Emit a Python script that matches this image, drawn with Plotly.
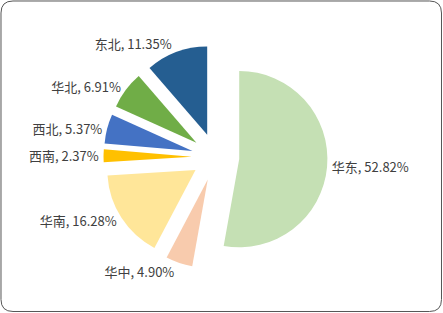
import plotly.graph_objects as go

regions = ["华东", "华中", "华南", "西南", "西北", "华北", "东北"]
shares = [52.82, 4.90, 16.28, 2.37, 5.37, 6.91, 11.35]
colors = ["#C5E0B4", "#F8CBAD", "#FFE699", "#FFC000", "#4472C4", "#70AD47", "#255E91"]

W, H = 443, 313
ml, mr, mt, mb = 0, 12, 45, 44
pw, ph = W - ml - mr, H - mt - mb

def px2paper(x, y):
    return ((x - ml) / pw, (H - mb - y) / ph)

def rounded_rect(x0, y0, x1, y1, r):
    def P(x, y):
        a, b = px2paper(x, y)
        return f"{a:.5f},{b:.5f}"
    d = f"M {P(x0 + r, y0)} L {P(x1 - r, y0)} Q {P(x1, y0)} {P(x1, y0 + r)} "
    d += f"L {P(x1, y1 - r)} Q {P(x1, y1)} {P(x1 - r, y1)} "
    d += f"L {P(x0 + r, y1)} Q {P(x0, y1)} {P(x0, y1 - r)} "
    d += f"L {P(x0, y0 + r)} Q {P(x0, y0)} {P(x0 + r, y0)} Z"
    return d

fig = go.Figure(go.Pie(
    labels=regions,
    values=shares,
    sort=False,
    direction="clockwise",
    rotation=0,
    pull=[0.27] * len(shares),
    marker=dict(colors=colors, line=dict(width=0)),
    texttemplate="%{label}, %{value:.2f}%",
    textposition="outside",
    textfont=dict(family="Noto Sans CJK SC", size=13, color="#404040"),
    hoverinfo="label+percent",
    showlegend=False,
    automargin=False,
))

fig.update_layout(
    width=W, height=H,
    margin=dict(l=ml, r=mr, t=mt, b=mb),
    paper_bgcolor="white",
    plot_bgcolor="white",
    shapes=[dict(type="path", xref="paper", yref="paper",
                 path=rounded_rect(1, 1, 441.5, 311.5, 12),
                 line=dict(color="#555555", width=1), fillcolor="rgba(0,0,0,0)")],
)

fig.write_html("out.html")
